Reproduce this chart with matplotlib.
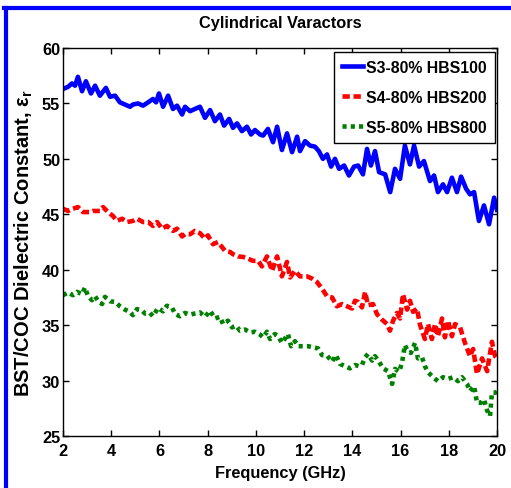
import matplotlib
matplotlib.use("Agg")
import matplotlib.pyplot as plt
from matplotlib.lines import Line2D

# ---------------- data ----------------
f_s3 = [2.00, 2.21, 2.37, 2.50, 2.62, 2.79, 2.95, 3.16, 3.33, 3.53, 3.78, 3.95, 4.16, 4.36,
        4.57, 4.78, 4.90, 5.11, 5.32, 5.53, 5.73, 5.86, 5.98, 6.15, 6.36, 6.56, 6.73, 6.94,
        7.06, 7.27, 7.47, 7.68, 7.89, 8.10, 8.30, 8.51, 8.68, 8.89, 9.05, 9.22, 9.42, 9.63,
        9.80, 9.96, 10.17, 10.30, 10.50, 10.71, 10.88, 11.08, 11.29, 11.50, 11.71, 11.83,
        12.04, 12.24, 12.45, 12.61, 12.78, 12.95, 13.12, 13.28, 13.45, 13.66, 13.86, 14.07,
        14.24, 14.44, 14.61, 14.77, 14.94, 15.11, 15.36, 15.57, 15.77, 15.98, 16.18, 16.39,
        16.56, 16.77, 16.97, 17.22, 17.39, 17.55, 17.76, 17.93, 18.13, 18.34, 18.51, 18.72,
        18.88, 19.05, 19.25, 19.46, 19.67, 19.88, 20.00]
v_s3 = [56.3, 56.5, 56.8, 56.6, 57.4, 56.1, 57.0, 55.9, 56.6, 55.7, 56.4, 55.6, 55.7, 55.1,
        54.9, 54.7, 54.9, 55.0, 54.8, 55.1, 55.4, 55.1, 55.9, 54.7, 55.7, 54.5, 54.8, 54.0,
        54.7, 54.3, 54.5, 54.7, 53.7, 54.4, 53.4, 54.0, 53.0, 53.6, 52.8, 53.2, 52.5, 52.9,
        52.2, 52.6, 52.2, 52.1, 52.7, 51.5, 52.9, 50.8, 52.3, 50.6, 52.0, 50.7,
        51.6, 51.2, 51.1, 50.7, 50.0, 50.4, 49.3, 50.0, 49.1, 49.4, 48.5, 49.3,
        49.4, 48.6, 50.9, 49.4, 50.7, 48.8, 48.6, 47.0, 49.1, 48.2, 51.2, 49.5,
        51.2, 49.3, 49.8, 48.0, 48.5, 47.0, 47.7, 47.0, 48.3, 47.0, 48.4, 47.3,
        46.8, 47.0, 44.4, 45.8, 44.1, 46.5, 45.4]

f_s4 = [2.00, 2.21, 2.41, 2.62, 2.83, 3.12, 3.24, 3.53, 3.66, 3.87, 4.07, 4.24, 4.45, 4.65,
        4.90, 5.07, 5.32, 5.53, 5.73, 5.90, 6.11, 6.31, 6.56, 6.73, 6.94, 7.06, 7.27, 7.47,
        7.68, 7.89, 8.01, 8.22, 8.43, 8.72, 8.93, 9.05, 9.26, 9.47, 9.67, 9.88, 10.09, 10.25,
        10.46, 10.67, 10.88, 11.08, 11.29, 11.42, 11.62, 11.83, 12.12, 12.33, 12.53, 12.74,
        12.95, 13.16, 13.36, 13.57, 13.78, 13.99, 14.11, 14.24, 14.40, 14.53, 14.65, 14.86,
        15.02, 15.23, 15.44, 15.56, 15.69, 15.85, 15.98, 16.10, 16.27, 16.39, 16.52, 16.68,
        16.81, 17.01, 17.14, 17.30, 17.43, 17.55, 17.72, 17.84, 17.97, 18.13, 18.26, 18.47,
        18.67, 18.88, 19.01, 19.17, 19.38, 19.59, 19.79, 19.92, 20.00]
v_s4 = [45.5, 45.3, 45.5, 45.65, 45.2, 45.2, 45.3, 45.3, 45.65, 45.2, 44.85, 44.4, 44.6, 44.3,
        44.4, 44.6, 44.3, 44.3, 43.95, 44.3, 43.7, 43.95, 43.5, 43.7, 43.0, 43.2, 43.2, 43.5,
        43.3, 42.8, 43.1, 42.3, 42.5, 41.7, 41.6, 41.4, 41.2, 41.15, 41.0, 40.8, 40.8, 40.3,
        41.2, 39.9, 41.2, 39.4, 40.7, 39.3, 39.9, 39.4, 39.4, 39.2, 38.9, 38.3,
        37.6, 37.5, 36.7, 36.9, 36.7, 36.5, 37.2, 37.1, 36.6, 38.0, 36.8, 36.9,
        36.0, 35.5, 35.1, 34.5, 35.4, 36.1, 35.6, 37.8, 36.4, 37.2, 36.2, 36.5,
        35.0, 33.75, 35.1, 33.75, 35.1, 34.0, 35.6, 33.9, 35.4, 34.0, 35.1, 34.8,
        33.4, 32.2, 32.85, 30.6, 32.0, 30.85, 33.5, 32.2, 32.0]

f_s5 = [2.00, 2.21, 2.41, 2.58, 2.79, 2.91, 3.04, 3.20, 3.33, 3.45, 3.62, 3.74, 3.95, 4.16,
        4.36, 4.57, 4.78, 4.90, 5.07, 5.28, 5.40, 5.61, 5.73, 5.94, 6.15, 6.31, 6.52, 6.65,
        6.85, 7.06, 7.27, 7.47, 7.68, 7.89, 8.10, 8.30, 8.51, 8.64, 8.84, 9.01, 9.18, 9.34,
        9.55, 9.76, 9.96, 10.17, 10.30, 10.46, 10.59, 10.79, 10.92, 11.08, 11.21, 11.33,
        11.46, 11.62, 11.75, 11.95, 12.16, 12.37, 12.58, 12.74, 12.95, 13.16, 13.32, 13.49,
        13.70, 13.90, 14.11, 14.28, 14.40, 14.53, 14.65, 14.82, 14.94, 15.11, 15.27, 15.48,
        15.65, 15.77, 15.94, 16.06, 16.18, 16.31, 16.43, 16.60, 16.72, 16.89, 17.01, 17.14,
        17.35, 17.55, 17.76, 17.97, 18.18, 18.38, 18.55, 18.76, 18.88, 19.05, 19.17, 19.34,
        19.46, 19.59, 19.71, 19.79, 19.92, 20.00]
v_s5 = [37.7, 37.95, 37.7, 38.0, 37.8, 38.4, 37.6, 37.25, 37.6, 37.2, 36.9, 37.55, 37.15, 37.1,
        36.7, 36.4, 36.2, 35.9, 36.45, 36.3, 36.05, 36.1, 35.8, 36.55, 36.25, 36.75, 36.6, 36.0,
        35.8, 36.1, 35.95, 36.05, 36.15, 35.75, 36.3, 35.6, 35.75, 35.1, 35.4, 34.8, 34.95, 34.5,
        34.6, 34.35, 34.4, 34.15, 33.9, 34.4, 33.75, 34.2, 34.0, 33.4, 33.8, 34.2,
        33.1, 33.55, 33.1, 33.1, 33.1, 33.0, 32.9, 32.3, 32.25, 31.7, 32.3, 31.5,
        31.3, 31.1, 31.4, 31.3, 31.4, 32.1, 32.4, 31.8, 32.2, 31.7, 31.1, 30.85,
        29.7, 31.05, 30.8, 31.6, 33.2, 32.6, 32.5, 33.4, 32.0, 32.1, 31.3, 30.75,
        30.3, 29.95, 30.3, 30.15, 30.3, 29.95, 30.3, 29.7, 29.05, 29.5, 28.0, 28.0,
        28.3, 27.3, 26.8, 28.9, 28.9, 29.0]

labels = ["S3-80% HBS100", "S4-80% HBS200", "S5-80% HBS800"]
x_ticks = [2, 4, 6, 8, 10, 12, 14, 16, 18, 20]
y_ticks = [25, 30, 35, 40, 45, 50, 55, 60]

# ---------------- fonts ----------------
fam = "Liberation Sans"
plt.rcParams['font.family'] = [fam, 'DejaVu Sans']
plt.rcParams['font.weight'] = 'bold'
plt.rcParams['mathtext.fontset'] = 'custom'
plt.rcParams['mathtext.rm'] = fam + ':bold'
plt.rcParams['mathtext.it'] = fam + ':bold'
plt.rcParams['mathtext.bf'] = fam + ':bold'

FS = 11.8

fig = plt.figure(figsize=(5.11, 4.89), dpi=100)
ax = fig.add_axes([63/511, 1-437/489, (497-63)/511, (437-49)/489])

l1, = ax.plot(f_s3, v_s3, color=(0, 0, 1), lw=3.3, solid_joinstyle='round')
l2, = ax.plot(f_s4, v_s4, color=(1, 0, 0), lw=3.3, dashes=(1.6, 0.8), dash_capstyle='butt')
l3, = ax.plot(f_s5, v_s5, color=(0, 0.5, 0), lw=3.3, dashes=(0.9, 0.9), dash_capstyle='butt')

ax.set_xlim(2, 20)
ax.set_ylim(25, 60)
ax.set_xticks(x_ticks)
ax.set_yticks(y_ticks)
ax.tick_params(direction='in', length=4, width=1, top=True, right=True,
               labelsize=FS)
ax.tick_params(axis='x', pad=5)
ax.tick_params(axis='y', pad=2)
for s in ax.spines.values():
    s.set_linewidth(1.0)

ax.set_title("Cylindrical Varactors", fontsize=FS, fontweight='bold', pad=15)
ax.set_xlabel("Frequency (GHz)", fontsize=FS, fontweight='bold', labelpad=5)
ax.set_ylabel("BST/COC Dielectric Constant, ε$_{\\mathregular{r}}$", fontsize=14.5,
              fontweight='bold', labelpad=5)

leg = ax.legend([l1, l2, l3], labels, loc='upper right',
                bbox_to_anchor=(0.9954, 0.9897), borderaxespad=0,
                fancybox=False, framealpha=1, edgecolor='black',
                fontsize=11.4, handlelength=1.35, handletextpad=0.2,
                labelspacing=0.95, borderpad=0.5)
leg.get_frame().set_linewidth(1.0)

# blue figure frame (top and left)
fig.add_artist(Line2D([4/511, 1], [1-9/489, 1-9/489], color=(0, 0, 1), lw=3,
                      transform=fig.transFigure))
fig.add_artist(Line2D([6/511, 6/511], [0, 1-9/489], color=(0, 0, 1), lw=3,
                      transform=fig.transFigure))

fig.savefig("out.png", dpi=100)
